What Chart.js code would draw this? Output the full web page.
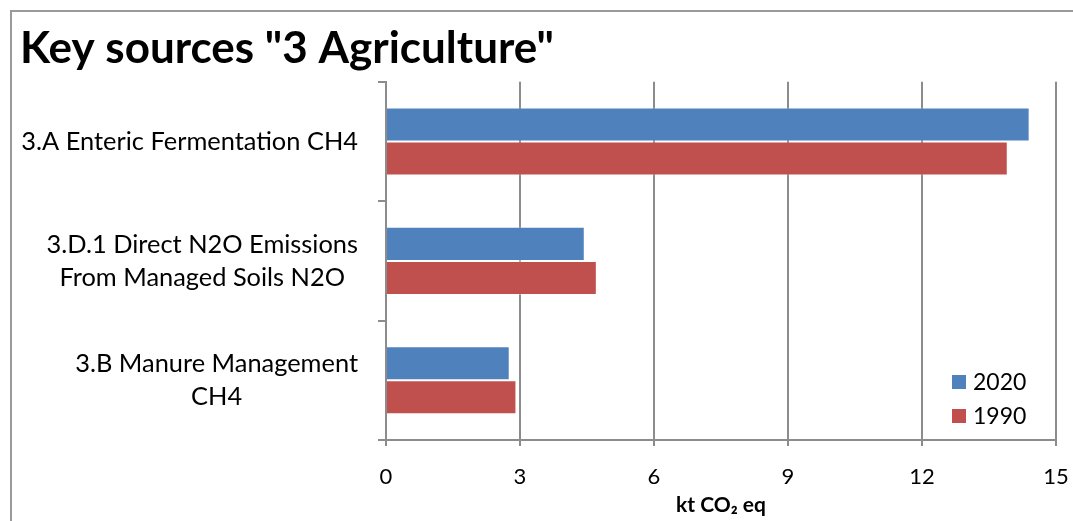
<!DOCTYPE html>
<html>
<head>
<meta charset="utf-8">
<script src="https://cdn.jsdelivr.net/npm/chart.js@4.4.1/dist/chart.umd.min.js"></script>
<style>
    html, body { margin: 0; padding: 0; background: #fff; }
    #wrap { position: relative; width: 1073px; height: 521px; overflow: hidden; }
    #frame { position: absolute; left: 10px; top: 10px; width: 1100px; height: 600px;
             border-top: 2px solid #9a9a9a; border-left: 2px solid #9a9a9a; }
    canvas { position: absolute; left: 0; top: 0; }
</style>
</head>
<body>
<div id="wrap">
    <div id="frame"></div>
    <canvas id="agriChart" width="1073" height="521"></canvas>
</div>
<script>
const categories = [
    ['3.A Enteric Fermentation CH4'],
    ['3.D.1 Direct N2O Emissions', 'From Managed Soils N2O'],
    ['3.B Manure Management', 'CH4']
];
const values2020 = [14.41, 4.45, 2.77];
const values1990 = [13.92, 4.72, 2.92];
const xTicks = [0, 3, 6, 9, 12, 15];

const FONT = 'Lato, "Open Sans", sans-serif';

// y labels: block right-aligned against the axis, lines centred inside the block (Excel style)
const yLabelPlugin = {
    id: 'yLabels',
    afterDraw(chart) {
        const ctx = chart.ctx;
        const y = chart.scales.y;
        ctx.save();
        ctx.font = '25.4px ' + FONT;
        ctx.fillStyle = '#000';
        ctx.textAlign = 'center';
        ctx.textBaseline = 'middle';
        const lineH = 33;
        categories.forEach(function(lines, i) {
            const widest = Math.max.apply(null, lines.map(l => ctx.measureText(l).width));
            const cx = y.right - 28 - widest / 2;
            const cy = y.getPixelForTick(i);
            const top = cy - (lines.length - 1) * lineH / 2;
            lines.forEach(function(l, k) {
                ctx.fillText(l, cx, top + k * lineH);
            });
        });
        ctx.restore();
    }
};

// legend inside the plot, bottom right
const legendPlugin = {
    id: 'innerLegend',
    afterDraw(chart) {
        const ctx = chart.ctx;
        const area = chart.chartArea;
        ctx.save();
        ctx.font = '23px ' + FONT;
        ctx.textBaseline = 'middle';
        chart.data.datasets.forEach(function(ds, i) {
            const x = area.right - 104;
            const y = area.bottom - 58 + i * 34;
            ctx.fillStyle = ds.backgroundColor;
            ctx.fillRect(x, y - 7, 14, 14);
            ctx.fillStyle = '#000';
            ctx.fillText(ds.label, x + 21, y + 1);
        });
        ctx.restore();
    }
};

const ctx1 = document.getElementById('agriChart').getContext('2d');
const agriChart = new Chart(ctx1, {
    type: 'bar',
    data: {
        labels: categories,
        datasets: [{
            label: '2020',
            data: values2020,
            backgroundColor: '#4F81BD',
            borderColor: 'rgba(255,255,255,0.35)',
            borderWidth: 1,
            categoryPercentage: 0.57,
            barPercentage: 1.0
        }, {
            label: '1990',
            data: values1990,
            backgroundColor: '#C0504D',
            borderColor: 'rgba(255,255,255,0.35)',
            borderWidth: 1,
            categoryPercentage: 0.57,
            barPercentage: 1.0
        }]
    },
    options: {
        indexAxis: 'y',
        responsive: false,
        animation: false,
        layout: {
            padding: { left: 20, right: 17, top: 0, bottom: 0 }
        },
        plugins: {
            title: {
                display: true,
                text: 'Key sources "3 Agriculture"',
                align: 'start',
                color: '#000',
                font: { family: FONT, size: 44, weight: 'bold' },
                padding: { top: 22, bottom: 7 }
            },
            legend: { display: false },
            tooltip: { enabled: false }
        },
        scales: {
            x: {
                min: 0,
                max: 15,
                afterBuildTicks(axis) {
                    axis.ticks = xTicks.map(v => ({ value: v }));
                },
                afterFit(axis) {
                    axis.height = 81;
                    axis.paddingRight = 0;
                    axis.paddingLeft = 0;
                },
                ticks: {
                    color: '#000',
                    font: { family: FONT, size: 22 },
                    padding: 18,
                    maxRotation: 0
                },
                grid: {
                    color: '#8c8c8c',
                    lineWidth: 2,
                    tickLength: 6
                },
                border: { color: '#8c8c8c', width: 2 },
                title: {
                    display: true,
                    text: 'kt CO₂ eq',
                    color: '#000',
                    font: { family: FONT, size: 21, weight: 'bold' },
                    padding: { top: 0, bottom: 3 }
                }
            },
            y: {
                afterFit(axis) {
                    axis.width = 366;
                },
                ticks: { display: false },
                grid: {
                    color: '#8c8c8c',
                    lineWidth: 2,
                    drawOnChartArea: false,
                    tickLength: 8
                },
                border: { color: '#8c8c8c', width: 2 }
            }
        }
    },
    plugins: [yLabelPlugin, legendPlugin]
});
</script>
</body>
</html>
